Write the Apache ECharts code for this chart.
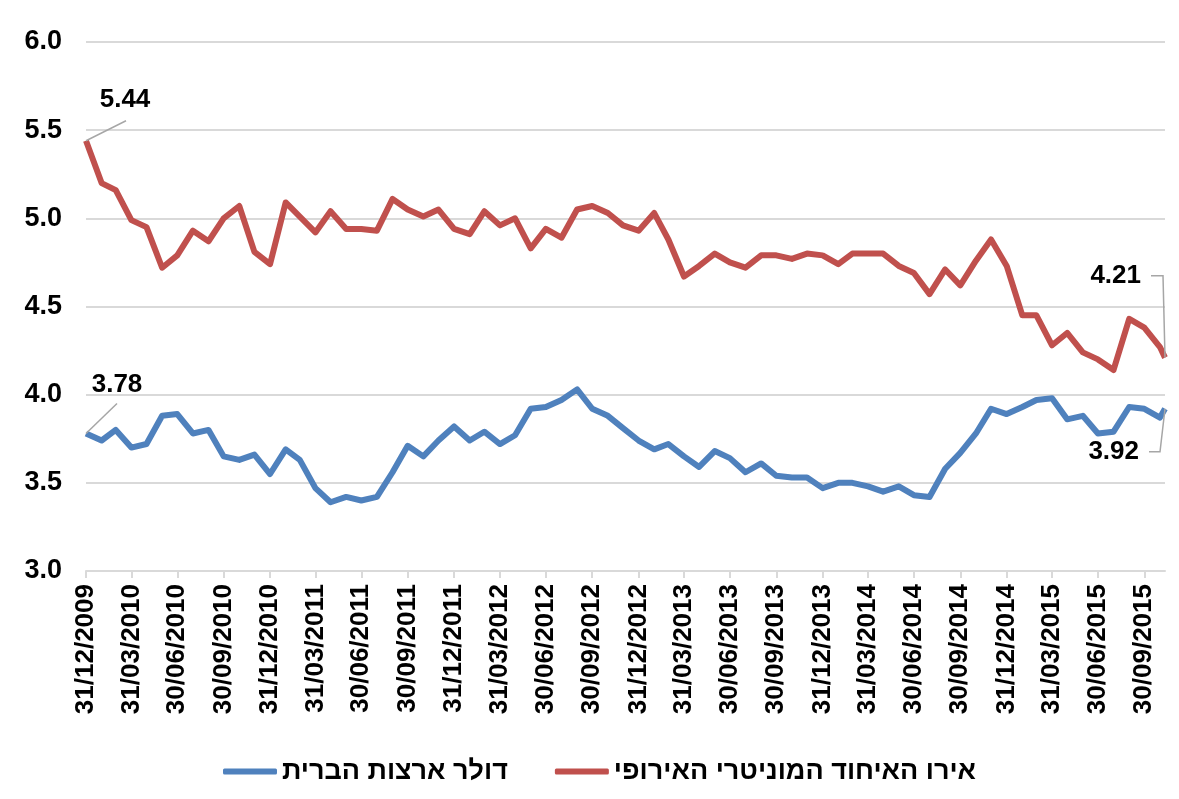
<!DOCTYPE html>
<html>
<head>
<meta charset="utf-8">
<script src="https://cdn.jsdelivr.net/npm/echarts@6/dist/echarts.min.js"></script>
<style>
  html, body { margin: 0; padding: 0; background: #fff; }
  #chart { width: 1179px; height: 799px; }
</style>
</head>
<body>
<div id="chart"></div>
<script>
// month-end dates, last point is a mid-month reading
var dates = [
    '2009-12-31',
    '2010-01-31','2010-02-28','2010-03-31','2010-04-30','2010-05-31','2010-06-30','2010-07-31','2010-08-31','2010-09-30','2010-10-31','2010-11-30','2010-12-31',
    '2011-01-31','2011-02-28','2011-03-31','2011-04-30','2011-05-31','2011-06-30','2011-07-31','2011-08-31','2011-09-30','2011-10-31','2011-11-30','2011-12-31',
    '2012-01-31','2012-02-29','2012-03-31','2012-04-30','2012-05-31','2012-06-30','2012-07-31','2012-08-31','2012-09-30','2012-10-31','2012-11-30','2012-12-31',
    '2013-01-31','2013-02-28','2013-03-31','2013-04-30','2013-05-31','2013-06-30','2013-07-31','2013-08-31','2013-09-30','2013-10-31','2013-11-30','2013-12-31',
    '2014-01-31','2014-02-28','2014-03-31','2014-04-30','2014-05-31','2014-06-30','2014-07-31','2014-08-31','2014-09-30','2014-10-31','2014-11-30','2014-12-31',
    '2015-01-31','2015-02-28','2015-03-31','2015-04-30','2015-05-31','2015-06-30','2015-07-31','2015-08-31','2015-09-30','2015-10-31','2015-11-10'
];

// דולר ארצות הברית
var usd = [3.78,
    3.74, 3.80, 3.70, 3.72, 3.88, 3.89, 3.78, 3.80, 3.65, 3.63, 3.66, 3.55,
    3.69, 3.63, 3.47, 3.39, 3.42, 3.40, 3.42, 3.56, 3.71, 3.65, 3.74, 3.82,
    3.74, 3.79, 3.72, 3.77, 3.92, 3.93, 3.97, 4.03, 3.92, 3.88, 3.81, 3.74,
    3.69, 3.72, 3.65, 3.59, 3.68, 3.64, 3.56, 3.61, 3.54, 3.53, 3.53, 3.47,
    3.50, 3.50, 3.48, 3.45, 3.48, 3.43, 3.42, 3.58, 3.67, 3.78, 3.92, 3.89,
    3.93, 3.97, 3.98, 3.86, 3.88, 3.78, 3.79, 3.93, 3.92, 3.87, 3.92];

// אירו האיחוד המוניטרי האירופי
var eur = [5.44,
    5.20, 5.16, 4.99, 4.95, 4.72, 4.79, 4.93, 4.87, 5.00, 5.07, 4.81, 4.74,
    5.09, 5.01, 4.92, 5.04, 4.94, 4.94, 4.93, 5.11, 5.05, 5.01, 5.05, 4.94,
    4.91, 5.04, 4.96, 5.00, 4.83, 4.94, 4.89, 5.05, 5.07, 5.03, 4.96, 4.93,
    5.03, 4.88, 4.67, 4.73, 4.80, 4.75, 4.72, 4.79, 4.79, 4.77, 4.80, 4.79,
    4.74, 4.80, 4.80, 4.80, 4.73, 4.69, 4.57, 4.71, 4.62, 4.76, 4.88, 4.73,
    4.45, 4.45, 4.28, 4.35, 4.24, 4.20, 4.14, 4.43, 4.38, 4.27, 4.21];

var tickDates = [
    '2009-12-31','2010-03-31','2010-06-30','2010-09-30','2010-12-31','2011-03-31','2011-06-30','2011-09-30',
    '2011-12-31','2012-03-31','2012-06-30','2012-09-30','2012-12-31','2013-03-31','2013-06-30','2013-09-30',
    '2013-12-31','2014-03-31','2014-06-30','2014-09-30','2014-12-31','2015-03-31','2015-06-30','2015-09-30'
];

var seriesNames = ['דולר ארצות הברית', 'אירו האיחוד המוניטרי האירופי'];
var colors = ['#4F81BD', '#C0504D'];
var FONT = '"Liberation Sans", Arial, "DejaVu Sans", sans-serif';

function toTime(s) {
    return new Date(s + 'T00:00:00Z').getTime();
}

function pad(n) {
    return (n < 10 ? '0' : '') + n;
}

function fmtDate(t) {
    var d = new Date(t);
    return pad(d.getUTCDate()) + '/' + pad(d.getUTCMonth() + 1) + '/' + d.getUTCFullYear();
}

function pairs(vals) {
    var out = [];
    for (var i = 0; i < vals.length; i++) {
        out.push([toTime(dates[i]), vals[i]]);
    }
    return out;
}

var tickTimes = tickDates.map(toTime);

var myChart = echarts.init(document.getElementById('chart'), null, {renderer: 'canvas'});

var option = {
    animation: false,
    backgroundColor: '#ffffff',
    color: colors,
    grid: {left: 86, right: 14, top: 42, bottom: 228, containLabel: false},
    legend: {
        left: 218,
        top: 753,
        itemWidth: 54,
        itemHeight: 6,
        itemGap: 47,
        icon: 'roundRect',
        textStyle: {fontFamily: FONT, fontWeight: 'bold', fontSize: 27, color: '#000'},
        data: seriesNames
    },
    xAxis: {
        type: 'value',
        min: toTime(dates[0]),
        max: toTime(dates[dates.length - 1]),
        splitLine: {show: false},
        axisLine: {show: true, lineStyle: {color: '#D9D9D9', width: 2}},
        axisTick: {show: true, length: 7, lineStyle: {color: '#D9D9D9', width: 2}, customValues: tickTimes},
        axisLabel: {
            customValues: tickTimes,
            rotate: 90,
            margin: 13,
            fontFamily: FONT,
            fontWeight: 'bold',
            fontSize: 26,
            color: '#000',
            formatter: function (val) {
                return fmtDate(val);
            }
        }
    },
    yAxis: {
        type: 'value',
        min: 3,
        max: 6,
        interval: 0.5,
        axisLine: {show: false},
        axisTick: {show: false},
        splitLine: {lineStyle: {color: '#D9D9D9', width: 2}},
        axisLabel: {
            margin: 24,
            fontFamily: FONT,
            fontWeight: 'bold',
            fontSize: 27,
            color: '#000',
            formatter: function (v) { return v.toFixed(1); }
        }
    },
    series: [
        {
            name: seriesNames[0],
            type: 'line',
            data: pairs(usd),
            showSymbol: false,
            symbol: 'none',
            lineStyle: {width: 6, color: colors[0], join: 'round'}
        },
        {
            name: seriesNames[1],
            type: 'line',
            data: pairs(eur),
            showSymbol: false,
            symbol: 'none',
            lineStyle: {width: 6, color: colors[1], join: 'round'}
        }
    ]
};
myChart.setOption(option);

// callouts for first and last values, anchored to the data points
var last = dates.length - 1;
var callouts = [
    {vals: eur, i: 0, line: [[40, -20]], text: [39, -41], align: 'center'},
    {vals: usd, i: 0, line: [[31, -30]], text: [31, -49], align: 'center'},
    {vals: eur, i: last, line: [[-2, -82], [-14, -82]], text: [-24, -82], align: 'right'},
    {vals: usd, i: last, line: [[-5, 43], [-16, 43]], text: [-26, 43], align: 'right'}
];
var graphics = [];
callouts.forEach(function (c) {
    var p = myChart.convertToPixel({xAxisIndex: 0, yAxisIndex: 0}, [toTime(dates[c.i]), c.vals[c.i]]);
    var pts = [[p[0], p[1]]];
    c.line.forEach(function (d) { pts.push([p[0] + d[0], p[1] + d[1]]); });
    graphics.push({
        type: 'polyline',
        shape: {points: pts},
        style: {stroke: '#A6A6A6', lineWidth: 1.5, fill: null},
        z: 10
    });
    graphics.push({
        type: 'text',
        x: p[0] + c.text[0],
        y: p[1] + c.text[1],
        style: {
            text: c.vals[c.i].toFixed(2),
            fontFamily: FONT,
            fontWeight: 'bold',
            fontSize: 26,
            fill: '#000',
            align: c.align,
            verticalAlign: 'middle'
        },
        z: 10
    });
});
myChart.setOption({graphic: graphics});
</script>
</body>
</html>
